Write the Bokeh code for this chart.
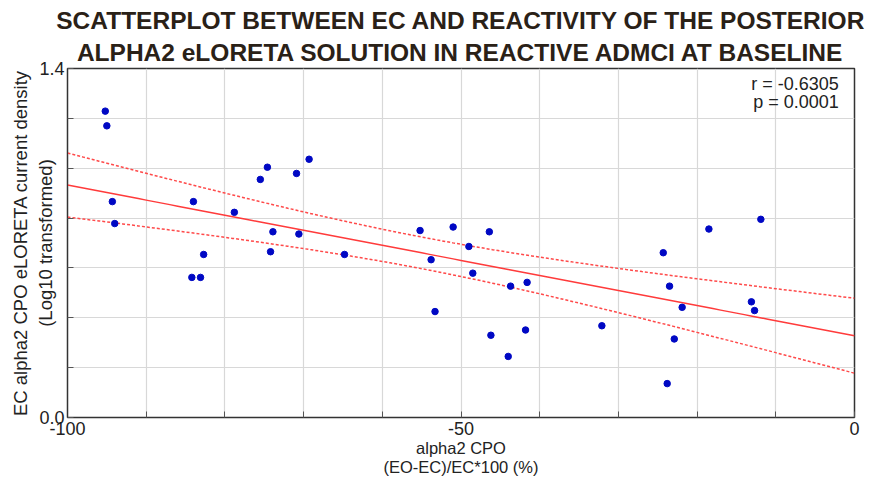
import numpy as np
from bokeh.plotting import figure
from bokeh.models import (Range1d, FixedTicker, Title, Label, ColumnDataSource)
from bokeh.embed import file_html
from bokeh.resources import INLINE

# ---- data ----
ec_x = [-95.2, -95.0, -94.3, -94.0, -84.0, -84.2, -83.1, -82.7, -78.8, -75.5,
        -74.6, -73.9, -74.2, -70.9, -70.6, -69.3, -64.8, -55.2, -53.8, -53.3,
        -51.0, -49.0, -48.5, -46.4, -46.2, -43.7, -44.0, -41.6, -41.8, -32.1,
        -24.3, -23.5, -23.8, -22.9, -21.9, -18.5, -13.1, -12.7, -11.9]
ec_y = [1.229, 1.170, 0.866, 0.778, 0.866, 0.562, 0.562, 0.654, 0.823, 0.955,
        1.004, 0.745, 0.665, 0.979, 0.736, 1.036, 0.654, 0.750, 0.633, 0.425,
        0.764, 0.686, 0.579, 0.745, 0.330, 0.527, 0.245, 0.542, 0.351, 0.368,
        0.661, 0.527, 0.136, 0.315, 0.442, 0.756, 0.464, 0.429, 0.795]
x_ticks = list(range(-100, 1, 10))
x_tick_labels = {-100: "-100", -50: "-50", 0: "0"}
y_ticks = [0.0, 0.2, 0.4, 0.6, 0.8, 1.0, 1.2, 1.4]
y_tick_labels = {0.0: "0.0", 1.4: "1.4"}
stats_text = ["r = -0.6305", "p = 0.0001"]
title_lines = ["SCATTERPLOT BETWEEN EC AND REACTIVITY OF THE POSTERIOR",
               "ALPHA2 eLORETA SOLUTION IN REACTIVE ADMCI AT BASELINE"]
x_label_lines = ["alpha2 CPO", "(EO-EC)/EC*100 (%)"]
y_label = "EC alpha2 CPO eLORETA current density\n(Log10 transformed)"
t_crit = 2.026

# regression fit and 95% confidence band
xa = np.array(ec_x); ya = np.array(ec_y)
n = len(xa)
b1, b0 = np.polyfit(xa, ya, 1)
res = ya - (b0 + b1 * xa)
s = np.sqrt(np.sum(res ** 2) / (n - 2))
xm = xa.mean(); sxx = np.sum((xa - xm) ** 2)
fx = np.linspace(-100, 0, 101)
fy = b0 + b1 * fx
half = t_crit * s * np.sqrt(1.0 / n + (fx - xm) ** 2 / sxx)

FONT = "Liberation Sans"
TXT = "#222222"

p = figure(width=877, height=487, output_backend="svg", toolbar_location=None,
           x_range=Range1d(-100, 0), y_range=Range1d(0, 1.4),
           min_border_left=67, min_border_right=23, min_border_top=6,
           min_border_bottom=70, background_fill_color="white",
           border_fill_color="white", title=None)
p.outline_line_color = "#333333"
p.outline_line_width = 1.5

p.add_layout(Title(text=title_lines[1], align="center", text_font=FONT,
                   text_font_style="bold", text_font_size="24.5px",
                   text_color="#2a2117", standoff=5), "above")
p.add_layout(Title(text=title_lines[0], align="center", text_font=FONT,
                   text_font_style="bold", text_font_size="24.5px",
                   text_color="#2a2117", standoff=1), "above")
p.add_layout(Title(text=" ", align="center", text_font=FONT,
                   text_font_size="2px", standoff=0), "above")

for ax in p.xaxis:
    ax.ticker = FixedTicker(ticks=x_ticks)
    ax.major_label_overrides = {t: x_tick_labels.get(t, "") for t in x_ticks}
    ax.major_tick_in = 6
    ax.major_tick_out = 0
    ax.minor_tick_line_color = None
    ax.axis_line_color = "#333333"
    ax.major_tick_line_color = "#555555"
    ax.major_label_text_font = FONT
    ax.major_label_text_font_size = "18px"
    ax.major_label_text_color = TXT
    ax.major_label_standoff = 4

p.add_layout(Title(text=x_label_lines[0], align="center", text_font=FONT,
                   text_font_style="normal", text_font_size="16.5px",
                   text_color=TXT, standoff=-1), "below")
p.add_layout(Title(text=x_label_lines[1], align="center", text_font=FONT,
                   text_font_style="normal", text_font_size="16.5px",
                   text_color=TXT, standoff=-2), "below")

for ax in p.yaxis:
    ax.ticker = FixedTicker(ticks=y_ticks)
    ax.major_label_overrides = {t: y_tick_labels.get(t, "") for t in y_ticks}
    ax.major_tick_in = 6
    ax.major_tick_out = 0
    ax.minor_tick_line_color = None
    ax.axis_line_color = "#333333"
    ax.major_tick_line_color = "#555555"
    ax.major_label_text_font = FONT
    ax.major_label_text_font_size = "18px"
    ax.major_label_text_color = TXT
    ax.major_label_standoff = 3
    ax.axis_label = y_label
    ax.axis_label_text_font = FONT
    ax.axis_label_text_font_style = "normal"
    ax.axis_label_text_font_size = "18.5px"
    ax.axis_label_text_color = TXT
    ax.axis_label_standoff = -20

p.xgrid.ticker = FixedTicker(ticks=x_ticks)
p.ygrid.ticker = FixedTicker(ticks=y_ticks)
p.grid.grid_line_color = "#d8d8d8"
p.grid.grid_line_width = 1.2

src = ColumnDataSource(dict(x=fx, y=fy, lo=fy - half, hi=fy + half))
p.line("x", "y", source=src, line_color="#ff3b3b", line_width=1.5)
p.line("x", "hi", source=src, line_color="#ff4a4a", line_width=1.5, line_dash="3 2")
p.line("x", "lo", source=src, line_color="#ff4a4a", line_width=1.5, line_dash="3 2")

p.scatter(ec_x, ec_y, size=6.5, fill_color="#0008c4", line_color="#0008c4")

p.add_layout(Label(x=-2.0, y=1.338, text=stats_text[0], text_align="right",
                   text_baseline="middle", text_font=FONT, text_font_size="18px",
                   text_color=TXT))
p.add_layout(Label(x=-2.0, y=1.265, text=stats_text[1], text_align="right",
                   text_baseline="middle", text_font=FONT, text_font_size="18px",
                   text_color=TXT))

open("out.html", "w").write(file_html(p, INLINE))
